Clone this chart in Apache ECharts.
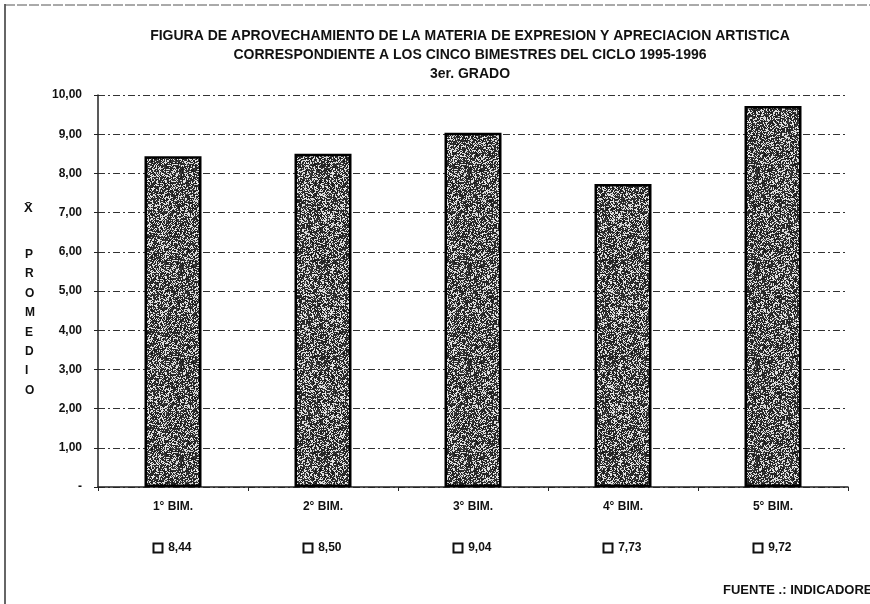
<!DOCTYPE html>
<html>
<head>
<meta charset="utf-8">
<script src="https://cdn.jsdelivr.net/npm/echarts@6/dist/echarts.min.js"></script>
<style>
  html, body { margin: 0; padding: 0; background: #fff; }
  #chart { width: 870px; height: 604px; }
</style>
</head>
<body>
<div id="chart"></div>
<script>
var categories = ['1° BIM.', '2° BIM.', '3° BIM.', '4° BIM.', '5° BIM.'];
var promedios = [8.44, 8.50, 9.04, 7.73, 9.72];
var tickLabels = ['-', '1,00', '2,00', '3,00', '4,00', '5,00', '6,00', '7,00', '8,00', '9,00', '10,00'];

var font = '"Liberation Sans Narrow", "Liberation Sans", Arial, sans-serif';

// stipple texture for the bars (deterministic noise)
function makeTexture() {
  var c = document.createElement('canvas');
  c.width = 96; c.height = 96;
  var ctx = c.getContext('2d');
  var img = ctx.createImageData(96, 96);
  var seed = 12345;
  function rnd() { seed = (seed * 1103515245 + 12345) % 2147483648; return seed / 2147483648; }
  for (var i = 0; i < 96 * 96; i++) {
    var r = rnd();
    var v = r < 0.65 ? 20 + r * 70 : 130 + r * 110;
    img.data[i * 4] = v; img.data[i * 4 + 1] = v; img.data[i * 4 + 2] = v; img.data[i * 4 + 3] = 255;
  }
  ctx.putImageData(img, 0, 0);
  return c;
}

var chart = echarts.init(document.getElementById('chart'));

var option = {
  backgroundColor: '#fff',
  animation: false,
  title: {
    text: 'FIGURA DE APROVECHAMIENTO DE LA MATERIA DE EXPRESION Y APRECIACION ARTISTICA\nCORRESPONDIENTE A LOS CINCO BIMESTRES DEL CICLO 1995-1996\n3er. GRADO',
    left: 465,
    top: 22,
    textAlign: 'center',
    textStyle: { fontFamily: font, fontWeight: 'bold', fontSize: 14, color: '#111', lineHeight: 19 }
  },
  grid: { left: 98, right: 22, top: 95, bottom: 117 },
  xAxis: {
    type: 'category',
    data: categories,
    axisLine: { lineStyle: { color: '#222', width: 1.5 } },
    axisTick: { show: true, length: 4, lineStyle: { color: '#222' } },
    axisLabel: {
      margin: 13,
      fontFamily: font,
      formatter: function (v, i) {
        return '{a|' + v + '}\n{s| }\n{sq|}{b|  ' + promedios[i].toFixed(2).replace('.', ',') + '}';
      },
      rich: {
        a: { fontFamily: font, fontWeight: 'bold', fontSize: 12, color: '#111', lineHeight: 14 },
        s: { fontSize: 10, lineHeight: 27 },
        sq: { width: 7, height: 7, borderColor: '#111', borderWidth: 2, backgroundColor: '#fff', lineHeight: 14 },
        b: { fontFamily: font, fontWeight: 'bold', fontSize: 12, color: '#111', lineHeight: 14 }
      }
    }
  },
  yAxis: {
    type: 'value',
    min: 0,
    max: 10,
    interval: 1,
    axisLine: { show: true, lineStyle: { color: '#222', width: 1.5 } },
    axisTick: { show: true, length: 4, lineStyle: { color: '#222' } },
    axisLabel: {
      margin: 16,
      fontFamily: font,
      fontWeight: 'bold',
      fontSize: 12,
      color: '#111',
      formatter: function (v) { return tickLabels[Math.round(v)]; }
    },
    splitLine: { show: true, lineStyle: { color: '#333', type: [7, 3, 2, 3], width: 1 } }
  },
  series: [{
    type: 'bar',
    data: promedios,
    barWidth: '38%',
    itemStyle: {
      color: { image: makeTexture(), repeat: 'repeat' },
      borderColor: '#000',
      borderWidth: 2.5
    }
  }],
  graphic: [
    { type: 'line', shape: { x1: 5, y1: 4, x2: 5, y2: 604 }, style: { stroke: '#333', lineWidth: 1.5 } },
    { type: 'line', shape: { x1: 5, y1: 5, x2: 870, y2: 5 }, style: { stroke: '#555', lineWidth: 1, lineDash: [10, 2] } },
    {
      type: 'text', left: 24, top: 202,
      style: { text: 'X̄', font: 'bold 13px ' + font, fill: '#111' }
    },
    {
      type: 'text', left: 25, top: 245,
      style: { text: 'P\nR\nO\nM\nE\nD\nI\nO', font: 'bold 12px ' + font, fill: '#111', lineHeight: 19.4, align: 'center', width: 10 }
    },
    {
      type: 'text', left: 723, top: 584,
      style: { text: 'FUENTE .: INDICADORES', font: 'bold 13px ' + font, fill: '#111' }
    }
  ]
};

chart.setOption(option);
</script>
</body>
</html>
